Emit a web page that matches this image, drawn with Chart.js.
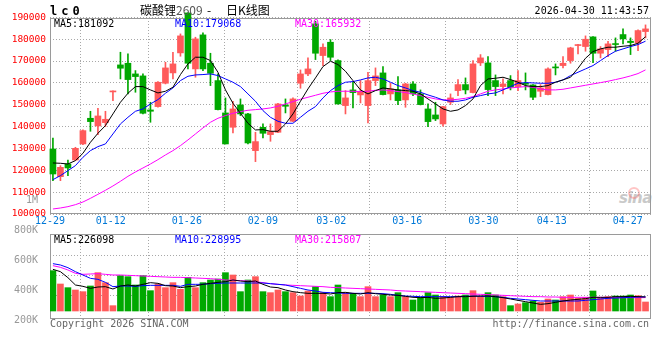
<!DOCTYPE html>
<html><head><meta charset="utf-8">
<script src="https://cdn.jsdelivr.net/npm/chart.js@4.4.1/dist/chart.umd.min.js"></script>
<style>
html,body{margin:0;padding:0;background:#fff;}
#wrap{position:relative;width:660px;height:360px;overflow:hidden;}
canvas{position:absolute;left:0;top:0;}
.t{position:absolute;white-space:pre;font-family:"DejaVu Sans Mono",monospace;font-size:10px;line-height:10px;}
</style></head><body>
<div id="wrap">
<div class="t" id="wm" style="left:619px;top:190px;font:italic bold 15px 'DejaVu Sans';line-height:16px;color:#c9c9c9;letter-spacing:-0.5px;">sina</div>
<div id="eye" style="position:absolute;left:628px;top:187px;width:8px;height:8px;border-radius:50%;border:2px solid rgba(255,90,90,0.35);"></div>
<canvas id="main" width="660" height="360"></canvas>
<canvas id="vol" width="660" height="360"></canvas>
<div class="t" style="left:50px;top:5px;font:bold 12px 'DejaVu Sans Mono';line-height:12px;letter-spacing:4px;">lc0</div>
<div class="t" style="left:140px;top:4px;font:12px 'Noto Sans CJK SC';line-height:12px;">碳酸锂<span style="color:#555">2609</span></div>
<div class="t" style="left:207px;top:4px;font:12px 'Noto Sans CJK SC';line-height:12px;">-</div>
<div class="t" style="left:226px;top:4px;font:12px 'Noto Sans CJK SC';line-height:12px;">日K线图</div>
<div class="t" id="clock" style="right:11px;top:6px;color:#000;"></div>
<div class="t" id="pm5" style="left:54px;top:18.5px;color:#000;"></div>
<div class="t" id="pm10" style="left:175px;top:18.5px;color:#0000ff;"></div>
<div class="t" id="pm30" style="left:295px;top:18.5px;color:#ff00ff;"></div>
<div class="t" id="vm5" style="left:54px;top:234.5px;color:#000;"></div>
<div class="t" id="vm10" style="left:175px;top:234.5px;color:#0000ff;"></div>
<div class="t" id="vm30" style="left:295px;top:234.5px;color:#ff00ff;"></div>
<div class="t" style="left:50px;top:319px;color:#666;">Copyright 2026 SINA.COM</div>
<div class="t" style="right:11px;top:319px;color:#666;">http://finance.sina.com.cn</div>
</div>
<script>
// ---------------- data ----------------
const timestamp = '2026-04-30 11:43:57';
const dates = ['12-29','12-30','12-31','01-05','01-06','01-07','01-08','01-09',
'01-12','01-13','01-14','01-15','01-16','01-19','01-20','01-21','01-22','01-23',
'01-26','01-27','01-28','01-29','01-30','02-02','02-03','02-04','02-05','02-06',
'02-09','02-10','02-11','02-12','02-13','02-24','02-25','02-26','02-27',
'03-02','03-03','03-04','03-05','03-06','03-09','03-10','03-11','03-12','03-13',
'03-16','03-17','03-18','03-19','03-20','03-23','03-24','03-25','03-26','03-27',
'03-30','03-31','04-01','04-02','04-03','04-07','04-08','04-09','04-10',
'04-13','04-14','04-15','04-16','04-17','04-20','04-21','04-22','04-23','04-24',
'04-27','04-28','04-29','04-30'];
const tickDates = ['12-29','01-12','01-26','02-09','03-02','03-16','03-30','04-13','04-27'];
const priceTicks = [100000,110000,120000,130000,140000,150000,160000,170000,180000,190000];
const volTicks = [200000,400000,600000,800000,1000000];

const openP = [129760,117090,122890,124720,132050,143800,140290,141810,155850,168210,168980,164090,163180,147610,149140,159820,164550,173710,192000,166380,
181950,168980,161040,146240,139680,149900,145780,128990,139680,136320,137390,149900,142420,159820,164090,186980,172490,178590,170200,149600,
156770,154480,149600,161040,164550,154940,156770,152190,159510,154940,148070,145320,141200,151120,156460,159210,155550,169130,169130,161040,
158290,161040,158290,159820,159060,156160,154630,167140,167910,170200,177060,176610,181030,173550,175230,177830,182100,179050,178280,183470];
const highP = [134790,122130,124720,130520,138460,147000,148370,147000,156310,174010,173250,165620,164090,151120,160580,169430,174010,182400,192000,180880,
182860,173550,164090,153110,151580,152650,146090,137390,141200,141200,150660,152650,153110,165920,171420,188200,177830,179810,170500,156460,
160580,161040,164860,166840,167450,159820,162870,159820,160580,156770,150360,151120,149290,154940,161500,162260,170200,172940,172030,163630,
161800,163330,165620,164550,159210,159210,166840,168670,172030,176300,177670,181490,181180,176610,179050,180570,184690,180570,184240,186520];
const lowP = [115260,115260,117550,124420,131740,137850,136320,139980,151880,161800,154940,155700,145780,141970,148830,159510,161800,172180,166380,162570,
165620,158750,147610,132050,137080,145020,132050,123960,134790,133270,137230,146240,142270,157530,163330,170650,167910,170200,150210,145780,
148530,150820,141660,158750,154480,152190,150050,148830,154170,149900,139980,142730,140130,150050,154170,154940,155390,167910,154170,154170,
154940,156770,156460,156770,152340,153720,154480,163630,166840,168980,173250,174470,169280,171420,172030,174470,177830,172940,174770,180570];
const closeP = [118310,121360,121060,130060,138150,142270,144860,143340,156310,166690,161500,162870,146090,147000,160280,166840,168670,181490,168980,180120,
166380,164400,147760,132050,148070,145780,132500,133120,136930,137690,150360,149290,152650,164090,166380,173550,176300,171720,150360,153110,
155550,156160,161040,163180,154630,157230,151880,159510,154940,150050,142270,143490,149140,153110,159210,156770,168670,171420,156920,158290,
159510,157990,161040,159360,153410,157680,166380,166840,168980,176000,177520,179960,173550,175540,177830,177520,180120,178440,183930,184690];

const ma5 = [123350,123200,122890,124420,127770,132810,136930,140440,145780,151120,155240,158290,158290,156770,155390,156160,157990,163790,168670,171720,
171720,170200,164860,156770,150660,146090,141510,138460,138610,137850,137850,141200,145780,151580,157230,162260,167450,169890,168370,165310,
161040,156770,154940,156460,157680,157230,156770,156460,156160,154940,152650,150360,148070,147000,147610,149600,152650,158750,161800,162110,
162570,161500,160280,158750,158290,158290,158750,160280,161350,162570,166690,171260,174320,175540,176300,176300,176760,177060,178130,181092];
const ma10 = [115720,117550,119840,122130,125940,128990,130830,132050,136620,141200,144250,147000,148070,150360,152340,155240,157680,161040,163020,163630,
163790,164090,163330,161800,160280,158290,154940,151580,147310,144250,142420,141510,141510,144250,147000,149140,153110,156460,158750,160280,
160580,161350,162260,162570,161800,160280,158750,157680,156460,155700,154480,153410,152190,151580,151580,152190,153410,154170,154940,155390,
156770,158290,159820,160120,159970,159820,159820,160280,161350,163330,164860,166380,167910,170200,172490,174470,175540,176610,177520,179068];
const ma30 = [102290,102750,103360,104270,105490,107170,109000,110840,112820,114960,117240,119230,121060,122890,124870,127010,128990,131280,133880,136620,
139370,141970,143800,145020,146090,146850,147460,147760,148070,148530,149290,150360,151430,152490,153410,154330,155240,155850,156160,156160,
156160,156000,156160,156610,156770,156460,156000,155550,154940,154170,153410,152650,152190,152190,152490,152950,153720,154940,156160,156770,
157230,157680,157990,158290,157990,157230,156770,156770,157070,157680,158290,158900,159510,160120,160740,161500,162260,163180,164250,165932];

const volume = [650500,435460,376320,338690,311810,403200,618240,456960,86020,569860,553730,419330,569860,327940,435460,376320,456960,349440,542980,376320,
456960,499970,516100,618240,580610,311810,499970,553730,311810,295680,338690,311810,295680,241920,322560,392450,295680,231170,419330,295680,
284930,231170,392450,231170,258050,231170,295680,231170,177410,220420,295680,258050,231170,220420,241920,258050,327940,241920,295680,258050,
231170,86020,112900,134400,161280,139780,193540,177410,231170,258050,204290,220420,322560,220420,231170,241920,241920,258050,247300,145150];
const volMa5 = [672000,634370,537600,419330,397820,365570,387070,392450,354820,403200,419330,403200,430080,456960,446210,408580,403200,376320,392450,403200,
430080,446210,462340,473090,499970,483840,473090,483840,430080,387070,376320,338690,311810,295680,284930,284930,284930,274180,295680,301060,
284930,274180,295680,279550,268800,258050,252670,236540,220420,215040,220420,204290,209660,220420,231170,231170,236540,241920,241920,231170,
215040,193540,172030,150530,129020,107520,118270,139780,161280,177410,188160,198910,220420,220420,220420,231170,231170,236540,231170,226098];
const volMa10 = [763390,741890,698880,634370,580610,526850,510720,462340,392450,403200,403200,397820,408580,413950,413950,413950,413950,397820,430080,430080,
430080,440830,446210,451580,451580,451580,451580,451580,451580,440830,430080,419330,392450,365570,338690,322560,301060,295680,290300,284930,
284930,284930,284930,284930,279550,268800,252670,241920,236540,231170,231170,231170,231170,231170,231170,236540,241920,236540,236540,231170,
220420,204290,193540,182780,172030,161280,161280,161280,161280,161280,161280,172030,182780,193540,204290,209660,215040,220420,225790,228995];
const volMa30 = [731140,704260,661250,607490,591360,596740,602110,591360,580610,580610,575230,569860,564480,559100,553730,548350,542980,542980,537600,532220,
526850,521470,510720,499970,494590,489220,483840,473090,456960,440830,430080,419330,413950,408580,403200,397820,392450,381700,376320,370940,
365570,360190,354820,349440,344060,338690,327940,322560,317180,311810,306430,301060,295680,290300,284930,279550,274180,268800,263420,258050,
252670,247300,241920,236540,231170,231170,225790,225790,220420,220420,220420,220420,220420,220420,220420,215040,215040,215040,215040,215807];

// ---------------- styles ----------------
const RED = '#ff5a5a', GREEN = '#00a800';
const MONO = '"DejaVu Sans Mono", monospace';
const GRID = '#a8a8a8';
const DASH = [1, 2];

// ---------------- derived ----------------
const last = a => a[a.length - 1];
document.getElementById('clock').textContent = timestamp;
document.getElementById('pm5').textContent = 'MA5:' + last(ma5);
document.getElementById('pm10').textContent = 'MA10:' + last(ma10);
document.getElementById('pm30').textContent = 'MA30:' + last(ma30);
document.getElementById('vm5').textContent = 'MA5:' + last(volMa5);
document.getElementById('vm10').textContent = 'MA10:' + last(volMa10);
document.getElementById('vm30').textContent = 'MA30:' + last(volMa30);

const xy = arr => arr.map((v, i) => ({x: i, y: v}));
const colors = closeP.map((c, i) => c >= openP[i] ? RED : GREEN);
const tickIdx = tickDates.map(d => dates.indexOf(d));
const n = dates.length;

const framePlugin = {
  id: 'frame',
  beforeDatasetsDraw(chart) {
    const {ctx, chartArea: a} = chart;
    ctx.save();
    ctx.strokeStyle = '#9a9a9a';
    ctx.lineWidth = 1;
    ctx.strokeRect(a.left + 0.5, a.top + 0.5, a.right - a.left - 1, a.bottom - a.top - 1);
    ctx.restore();
  }
};

const lineDs = (arr, color, yid) => ({type: 'line', data: xy(arr), borderColor: color, borderWidth: 1,
  pointRadius: 0, tension: 0, order: 0, xAxisID: 'x', yAxisID: yid, spanGaps: true});

const xCandle = {type: 'linear', display: false, min: -0.39, max: n - 0.27, offset: false};
const xGrid = (showLabels) => ({
  type: 'linear', position: 'bottom', min: 0, max: n - 0.95, offset: false,
  grid: {color: GRID, lineWidth: 1, drawTicks: false},
  border: {display: false, dash: DASH},
  ticks: {display: showLabels, autoSkip: false, maxRotation: 0, minRotation: 0, padding: 1,
    color: '#0078d7', font: {family: MONO, size: 10}, callback: v => dates[v]},
  afterBuildTicks: s => { s.ticks = tickIdx.map(v => ({value: v})); },
  afterFit: s => { s.height = showLabels ? 20 : 0; }
});

Chart.defaults.font.family = MONO;

new Chart(document.getElementById('main'), {
  type: 'bar',
  data: {datasets: [
    lineDs(ma5, '#000000', 'y'),
    lineDs(ma10, '#0000ff', 'y'),
    lineDs(ma30, '#ff00ff', 'y'),
    {type: 'bar', data: openP.map((o, i) => ({x: i, y: [Math.min(o, closeP[i]), Math.max(o, closeP[i])]})),
      backgroundColor: colors, barThickness: 6, grouped: false, minBarLength: 1, order: 1, clip: false,
      xAxisID: 'x', yAxisID: 'y'},
    {type: 'bar', data: lowP.map((l, i) => ({x: i, y: [l, highP[i]]})),
      backgroundColor: colors, barThickness: 1, grouped: false, order: 2, clip: false,
      xAxisID: 'x', yAxisID: 'y'}
  ]},
  options: {
    responsive: false, animation: false, events: [], devicePixelRatio: 1,
    layout: {padding: {left: 0, right: 9, top: 18, bottom: 126}},
    plugins: {legend: {display: false}, tooltip: {enabled: false}},
    scales: {
      x: xCandle,
      xg: xGrid(true),
      y: {type: 'linear', position: 'left', min: 100000, max: 189675,
        grid: {color: GRID, lineWidth: 1, drawTicks: false},
        border: {display: false, dash: DASH},
        ticks: {autoSkip: false, padding: 4, color: '#ff0000', font: {family: MONO, size: 9.5}, callback: v => String(v)},
        afterBuildTicks: s => { s.ticks = priceTicks.map(v => ({value: v})); },
        afterFit: s => { s.width = 50; }}
    }
  },
  plugins: [framePlugin]
});

new Chart(document.getElementById('vol'), {
  type: 'bar',
  data: {datasets: [
    lineDs(volMa5, '#000000', 'yv'),
    lineDs(volMa10, '#0000ff', 'yv'),
    lineDs(volMa30, '#ff00ff', 'yv'),
    {type: 'bar', data: xy(volume), backgroundColor: colors, barThickness: 6, grouped: false, order: 1,
      xAxisID: 'x', yAxisID: 'yv'}
  ]},
  options: {
    responsive: false, animation: false, events: [], devicePixelRatio: 1,
    layout: {padding: {left: 0, right: 9, top: 234, bottom: 41}},
    plugins: {legend: {display: false}, tooltip: {enabled: false}},
    scales: {
      x: xCandle,
      xg: xGrid(false),
      yv: {type: 'linear', display: false, min: -129024, max: 1241856},
      yg: {type: 'linear', position: 'right', min: -0.175, max: 4.075,
        grid: {color: GRID, lineWidth: 1, drawTicks: false},
        border: {display: false, dash: DASH},
        ticks: {display: false},
        afterBuildTicks: s => { s.ticks = [1, 2, 3].map(v => ({value: v})); },
        afterFit: s => { s.width = 0; }},
      yl: {type: 'linear', position: 'left', min: 210000, max: 776667,
        grid: {display: false}, border: {display: false},
        ticks: {autoSkip: false, padding: 4, color: '#999999', font: {family: MONO, size: 10},
          callback: v => v >= 1000000 ? (v / 1000000) + 'M' : (v / 1000) + 'K'},
        afterBuildTicks: s => { s.ticks = volTicks.map(v => ({value: v})); },
        afterFit: s => { s.width = 50; }}
    }
  },
  plugins: [framePlugin]
});
</script>
</body></html>
